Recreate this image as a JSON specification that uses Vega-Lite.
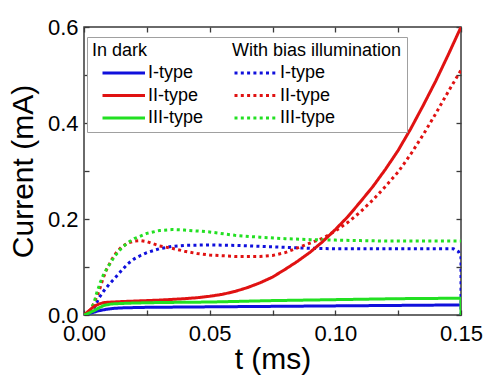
{
  "$schema": "https://vega.github.io/schema/vega-lite/v6.json",
  "width": 377,
  "height": 288,
  "autosize": {"type": "none"},
  "padding": {"left": 84, "top": 27, "right": 24, "bottom": 61},
  "background": "white",
  "config": {
    "font": "Liberation Sans",
    "view": {"stroke": "#3a3a3a", "strokeWidth": 1.5},
    "axis": {"grid": false, "domain": false, "labelColor": "black", "titleColor": "black", "tickColor": "#3a3a3a", "tickWidth": 1.3, "labelFontSize": 22, "titleFontSize": 30, "titleFontWeight": "normal", "labelFlush": false, "labelOverlap": false}
  },
  "data": {"values": [
    {"series": "I-type|bias", "t": 0, "current": 0},
    {"series": "I-type|bias", "t": 0.002, "current": 0.002},
    {"series": "I-type|bias", "t": 0.004, "current": 0.014},
    {"series": "I-type|bias", "t": 0.006, "current": 0.036},
    {"series": "I-type|bias", "t": 0.008, "current": 0.051},
    {"series": "I-type|bias", "t": 0.01, "current": 0.064},
    {"series": "I-type|bias", "t": 0.0125, "current": 0.078},
    {"series": "I-type|bias", "t": 0.015, "current": 0.093},
    {"series": "I-type|bias", "t": 0.0175, "current": 0.107},
    {"series": "I-type|bias", "t": 0.02, "current": 0.117},
    {"series": "I-type|bias", "t": 0.0225, "current": 0.124},
    {"series": "I-type|bias", "t": 0.025, "current": 0.13},
    {"series": "I-type|bias", "t": 0.03, "current": 0.138},
    {"series": "I-type|bias", "t": 0.035, "current": 0.143},
    {"series": "I-type|bias", "t": 0.04, "current": 0.145},
    {"series": "I-type|bias", "t": 0.05, "current": 0.146},
    {"series": "I-type|bias", "t": 0.06, "current": 0.145},
    {"series": "I-type|bias", "t": 0.07, "current": 0.143},
    {"series": "I-type|bias", "t": 0.08, "current": 0.141},
    {"series": "I-type|bias", "t": 0.09, "current": 0.139},
    {"series": "I-type|bias", "t": 0.1, "current": 0.138},
    {"series": "I-type|bias", "t": 0.12, "current": 0.138},
    {"series": "I-type|bias", "t": 0.14, "current": 0.138},
    {"series": "I-type|bias", "t": 0.147, "current": 0.138},
    {"series": "I-type|bias", "t": 0.149, "current": 0.132},
    {"series": "I-type|bias", "t": 0.15, "current": 0.12},
    {"series": "I-type|bias", "t": 0.15, "current": 0},
    {"series": "II-type|bias", "t": 0, "current": 0},
    {"series": "II-type|bias", "t": 0.002, "current": 0.005},
    {"series": "II-type|bias", "t": 0.004, "current": 0.025},
    {"series": "II-type|bias", "t": 0.006, "current": 0.05},
    {"series": "II-type|bias", "t": 0.0075, "current": 0.075},
    {"series": "II-type|bias", "t": 0.009, "current": 0.095},
    {"series": "II-type|bias", "t": 0.011, "current": 0.115},
    {"series": "II-type|bias", "t": 0.013, "current": 0.131},
    {"series": "II-type|bias", "t": 0.015, "current": 0.142},
    {"series": "II-type|bias", "t": 0.0175, "current": 0.15},
    {"series": "II-type|bias", "t": 0.02, "current": 0.154},
    {"series": "II-type|bias", "t": 0.0225, "current": 0.155},
    {"series": "II-type|bias", "t": 0.025, "current": 0.153},
    {"series": "II-type|bias", "t": 0.03, "current": 0.144},
    {"series": "II-type|bias", "t": 0.035, "current": 0.139},
    {"series": "II-type|bias", "t": 0.04, "current": 0.133},
    {"series": "II-type|bias", "t": 0.045, "current": 0.128},
    {"series": "II-type|bias", "t": 0.05, "current": 0.125},
    {"series": "II-type|bias", "t": 0.06, "current": 0.122},
    {"series": "II-type|bias", "t": 0.07, "current": 0.122},
    {"series": "II-type|bias", "t": 0.075, "current": 0.124},
    {"series": "II-type|bias", "t": 0.08, "current": 0.13},
    {"series": "II-type|bias", "t": 0.085, "current": 0.14},
    {"series": "II-type|bias", "t": 0.09, "current": 0.15},
    {"series": "II-type|bias", "t": 0.095, "current": 0.16},
    {"series": "II-type|bias", "t": 0.1, "current": 0.175},
    {"series": "II-type|bias", "t": 0.105, "current": 0.193},
    {"series": "II-type|bias", "t": 0.11, "current": 0.215},
    {"series": "II-type|bias", "t": 0.115, "current": 0.24},
    {"series": "II-type|bias", "t": 0.12, "current": 0.268},
    {"series": "II-type|bias", "t": 0.125, "current": 0.298},
    {"series": "II-type|bias", "t": 0.13, "current": 0.335},
    {"series": "II-type|bias", "t": 0.135, "current": 0.376},
    {"series": "II-type|bias", "t": 0.14, "current": 0.42},
    {"series": "II-type|bias", "t": 0.145, "current": 0.466},
    {"series": "II-type|bias", "t": 0.15, "current": 0.51},
    {"series": "III-type|bias", "t": 0, "current": 0},
    {"series": "III-type|bias", "t": 0.002, "current": 0.004},
    {"series": "III-type|bias", "t": 0.004, "current": 0.025},
    {"series": "III-type|bias", "t": 0.005, "current": 0.045},
    {"series": "III-type|bias", "t": 0.0065, "current": 0.068},
    {"series": "III-type|bias", "t": 0.008, "current": 0.087},
    {"series": "III-type|bias", "t": 0.01, "current": 0.104},
    {"series": "III-type|bias", "t": 0.012, "current": 0.121},
    {"series": "III-type|bias", "t": 0.015, "current": 0.14},
    {"series": "III-type|bias", "t": 0.0175, "current": 0.151},
    {"series": "III-type|bias", "t": 0.02, "current": 0.159},
    {"series": "III-type|bias", "t": 0.025, "current": 0.17},
    {"series": "III-type|bias", "t": 0.03, "current": 0.176},
    {"series": "III-type|bias", "t": 0.035, "current": 0.178},
    {"series": "III-type|bias", "t": 0.04, "current": 0.177},
    {"series": "III-type|bias", "t": 0.05, "current": 0.173},
    {"series": "III-type|bias", "t": 0.06, "current": 0.166},
    {"series": "III-type|bias", "t": 0.07, "current": 0.162},
    {"series": "III-type|bias", "t": 0.08, "current": 0.159},
    {"series": "III-type|bias", "t": 0.09, "current": 0.157},
    {"series": "III-type|bias", "t": 0.1, "current": 0.156},
    {"series": "III-type|bias", "t": 0.11, "current": 0.155},
    {"series": "III-type|bias", "t": 0.12, "current": 0.154},
    {"series": "III-type|bias", "t": 0.15, "current": 0.154},
    {"series": "I-type|dark", "t": 0, "current": 0},
    {"series": "I-type|dark", "t": 0.002, "current": 0.003},
    {"series": "I-type|dark", "t": 0.004, "current": 0.006},
    {"series": "I-type|dark", "t": 0.006, "current": 0.009},
    {"series": "I-type|dark", "t": 0.009, "current": 0.012},
    {"series": "I-type|dark", "t": 0.012, "current": 0.014},
    {"series": "I-type|dark", "t": 0.016, "current": 0.015},
    {"series": "I-type|dark", "t": 0.025, "current": 0.016},
    {"series": "I-type|dark", "t": 0.05, "current": 0.017},
    {"series": "I-type|dark", "t": 0.075, "current": 0.018},
    {"series": "I-type|dark", "t": 0.1, "current": 0.019},
    {"series": "I-type|dark", "t": 0.125, "current": 0.02},
    {"series": "I-type|dark", "t": 0.15, "current": 0.021},
    {"series": "II-type|dark", "t": 0, "current": 0},
    {"series": "II-type|dark", "t": 0.002, "current": 0.009},
    {"series": "II-type|dark", "t": 0.004, "current": 0.018},
    {"series": "II-type|dark", "t": 0.006, "current": 0.023},
    {"series": "II-type|dark", "t": 0.008, "current": 0.026},
    {"series": "II-type|dark", "t": 0.011, "current": 0.027},
    {"series": "II-type|dark", "t": 0.015, "current": 0.028},
    {"series": "II-type|dark", "t": 0.02, "current": 0.029},
    {"series": "II-type|dark", "t": 0.03, "current": 0.031},
    {"series": "II-type|dark", "t": 0.04, "current": 0.034},
    {"series": "II-type|dark", "t": 0.045, "current": 0.036},
    {"series": "II-type|dark", "t": 0.05, "current": 0.039},
    {"series": "II-type|dark", "t": 0.055, "current": 0.043},
    {"series": "II-type|dark", "t": 0.06, "current": 0.049},
    {"series": "II-type|dark", "t": 0.065, "current": 0.057},
    {"series": "II-type|dark", "t": 0.07, "current": 0.067},
    {"series": "II-type|dark", "t": 0.075, "current": 0.079},
    {"series": "II-type|dark", "t": 0.08, "current": 0.095},
    {"series": "II-type|dark", "t": 0.085, "current": 0.112},
    {"series": "II-type|dark", "t": 0.09, "current": 0.131},
    {"series": "II-type|dark", "t": 0.095, "current": 0.153},
    {"series": "II-type|dark", "t": 0.1, "current": 0.178},
    {"series": "II-type|dark", "t": 0.105, "current": 0.205},
    {"series": "II-type|dark", "t": 0.11, "current": 0.236},
    {"series": "II-type|dark", "t": 0.115, "current": 0.268},
    {"series": "II-type|dark", "t": 0.12, "current": 0.304},
    {"series": "II-type|dark", "t": 0.125, "current": 0.343},
    {"series": "II-type|dark", "t": 0.13, "current": 0.388},
    {"series": "II-type|dark", "t": 0.135, "current": 0.437},
    {"series": "II-type|dark", "t": 0.14, "current": 0.488},
    {"series": "II-type|dark", "t": 0.145, "current": 0.543},
    {"series": "II-type|dark", "t": 0.15, "current": 0.6},
    {"series": "III-type|dark", "t": 0, "current": 0},
    {"series": "III-type|dark", "t": 0.002, "current": 0.004},
    {"series": "III-type|dark", "t": 0.004, "current": 0.009},
    {"series": "III-type|dark", "t": 0.006, "current": 0.015},
    {"series": "III-type|dark", "t": 0.008, "current": 0.02},
    {"series": "III-type|dark", "t": 0.011, "current": 0.023},
    {"series": "III-type|dark", "t": 0.015, "current": 0.024},
    {"series": "III-type|dark", "t": 0.02, "current": 0.025},
    {"series": "III-type|dark", "t": 0.03, "current": 0.026},
    {"series": "III-type|dark", "t": 0.05, "current": 0.027},
    {"series": "III-type|dark", "t": 0.075, "current": 0.03},
    {"series": "III-type|dark", "t": 0.1, "current": 0.032},
    {"series": "III-type|dark", "t": 0.125, "current": 0.034},
    {"series": "III-type|dark", "t": 0.15, "current": 0.035},
    {"series": "III-type|dark", "t": 0.15, "current": 0}
  ]},
  "layer": [
    {
      "mark": {"type": "line", "strokeWidth": 3, "strokeCap": "butt", "clip": true},
      "encoding": {
        "x": {"field": "t", "type": "quantitative", "scale": {"domain": [0, 0.15], "nice": false, "zero": false},
          "axis": {"orient": "bottom", "title": "t (ms)", "values": [0, 0.025, 0.05, 0.075, 0.1, 0.125, 0.15], "labelExpr": "round(datum.value*1000) % 50 == 0 ? format(datum.value, '.2f') : ''", "tickSize": -5, "labelPadding": 13, "titlePadding": 0}},
        "y": {"field": "current", "type": "quantitative", "scale": {"domain": [0, 0.6], "nice": false},
          "axis": {"orient": "left", "title": "Current (mA)", "values": [0, 0.1, 0.2, 0.3, 0.4, 0.5, 0.6], "labelExpr": "round(datum.value*10) % 2 == 0 ? format(datum.value, '.1f') : ''", "tickSize": -5, "labelPadding": 11, "titlePadding": 9}},
        "color": {"field": "series", "type": "nominal",
          "scale": {"domain": ["I-type|dark", "II-type|dark", "III-type|dark", "I-type|bias", "II-type|bias", "III-type|bias"], "range": ["#1010dc", "#e01212", "#22e022", "#1010dc", "#e01212", "#22e022"]},
          "legend": {"orient": "none", "legendX": 3, "legendY": 10, "columns": 2, "columnPadding": 20, "rowPadding": 3.5, "padding": 5,
            "title": "\u00a0\u00a0In dark\u00a0\u00a0\u00a0\u00a0\u00a0\u00a0\u00a0\u00a0\u00a0\u00a0\u00a0\u00a0\u00a0\u00a0\u00a0\u00a0\u00a0With bias illumination\u00a0",
            "titleFontSize": 18, "titleFontWeight": "normal", "titleColor": "black", "titlePadding": 3, "titleLimit": 600,
            "labelFontSize": 18, "labelColor": "black", "labelExpr": "split(datum.label, '|')[0]",
            "symbolType": "M-2.5,0H2.5", "symbolSize": 289, "symbolStrokeWidth": 3, "symbolOffset": 21.75, "labelOffset": 14.25,
            "strokeColor": "#a0a0a0", "fillColor": "white"}},
        "strokeDash": {"field": "series", "type": "nominal",
          "scale": {"domain": ["I-type|dark", "II-type|dark", "III-type|dark", "I-type|bias", "II-type|bias", "III-type|bias"], "range": [[1, 0], [1, 0], [1, 0], [3, 3.3], [3, 3.3], [3, 3.3]]},
          "legend": {"orient": "none", "legendX": 3, "legendY": 10, "columns": 2, "columnPadding": 20, "rowPadding": 3.5, "padding": 5,
            "title": "\u00a0\u00a0In dark\u00a0\u00a0\u00a0\u00a0\u00a0\u00a0\u00a0\u00a0\u00a0\u00a0\u00a0\u00a0\u00a0\u00a0\u00a0\u00a0\u00a0With bias illumination\u00a0",
            "titleFontSize": 18, "titleFontWeight": "normal", "titleColor": "black", "titlePadding": 3, "titleLimit": 600,
            "labelFontSize": 18, "labelColor": "black", "labelExpr": "split(datum.label, '|')[0]",
            "symbolType": "M-2.5,0H2.5", "symbolSize": 289, "symbolStrokeWidth": 3, "symbolOffset": 21.75, "labelOffset": 14.25,
            "strokeColor": "#a0a0a0", "fillColor": "white"}}
      }
    },
    {
      "mark": {"type": "point", "opacity": 0},
      "encoding": {
        "x": {"field": "t", "type": "quantitative", "axis": {"orient": "top", "title": null, "labels": false, "values": [0, 0.025, 0.05, 0.075, 0.1, 0.125, 0.15], "tickSize": -5}},
        "y": {"field": "current", "type": "quantitative", "axis": {"orient": "right", "title": null, "labels": false, "values": [0, 0.1, 0.2, 0.3, 0.4, 0.5, 0.6], "tickSize": -5}}
      }
    }
  ],
  "resolve": {"axis": {"x": "independent", "y": "independent"}}
}
